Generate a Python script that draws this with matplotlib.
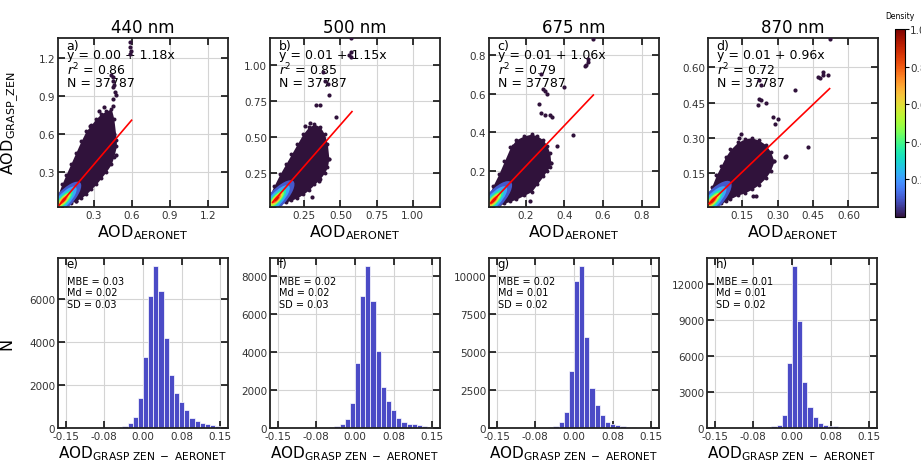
import numpy as np
import matplotlib
matplotlib.use('Agg')
import matplotlib.pyplot as plt
from matplotlib.patches import Ellipse
from matplotlib.colors import Normalize
from matplotlib.cm import ScalarMappable

# ---- scatter panels (top row) ----
wavelengths = ['440 nm', '500 nm', '675 nm', '870 nm']
panel_top = ['a)', 'b)', 'c)', 'd)']
fit_text = ['y = 0.00 + 1.18x', 'y = 0.01 + 1.15x', 'y = 0.01 + 1.06x', 'y = 0.01 + 0.96x']
intercept = [0.00, 0.01, 0.01, 0.01]
slope = [1.18, 1.15, 1.06, 0.96]
r2 = ['0.86', '0.85', '0.79', '0.72']
n_points = '37787'
line_x = [(0.03, 0.60), (0.03, 0.58), (0.02, 0.55), (0.01, 0.52)]
lims = [(0.02, 1.36), (0.012, 1.19), (0.01, 0.89), (0.005, 0.725)]
ticks = [[0.3, 0.6, 0.9, 1.2], [0.25, 0.5, 0.75, 1.0], [0.2, 0.4, 0.6, 0.8], [0.15, 0.3, 0.45, 0.6]]
tick_lbls = [['0.3', '0.6', '0.9', '1.2'], ['0.25', '0.50', '0.75', '1.00'],
             ['0.2', '0.4', '0.6', '0.8'], ['0.15', '0.30', '0.45', '0.60']]

# envelope of the dense cloud (x, lower y, upper y)
env_x = [
    [0.02, 0.05, 0.08, 0.12, 0.16, 0.2, 0.24, 0.28, 0.32, 0.36, 0.4, 0.44, 0.46, 0.48],
    [0.012, 0.04, 0.08, 0.12, 0.16, 0.2, 0.24, 0.28, 0.32, 0.36, 0.39, 0.41, 0.42],
    [0.01, 0.03, 0.06, 0.09, 0.12, 0.15, 0.19, 0.23, 0.26, 0.29, 0.31, 0.325, 0.33],
    [0.005, 0.02, 0.04, 0.06, 0.08, 0.1, 0.13, 0.16, 0.19, 0.22, 0.25, 0.27, 0.285],
]
env_lo = [
    [0.02, 0.025, 0.035, 0.05, 0.07, 0.09, 0.12, 0.16, 0.2, 0.25, 0.3, 0.36, 0.42, 0.5],
    [0.012, 0.015, 0.03, 0.045, 0.06, 0.075, 0.1, 0.13, 0.17, 0.21, 0.25, 0.29, 0.35],
    [0.01, 0.012, 0.018, 0.03, 0.04, 0.05, 0.07, 0.09, 0.13, 0.17, 0.2, 0.22, 0.24],
    [0.005, 0.006, 0.012, 0.02, 0.03, 0.04, 0.055, 0.065, 0.08, 0.1, 0.13, 0.16, 0.2],
]
env_hi = [
    [0.12, 0.2, 0.27, 0.36, 0.45, 0.54, 0.62, 0.67, 0.72, 0.76, 0.78, 0.8, 0.72, 0.55],
    [0.1, 0.16, 0.24, 0.31, 0.38, 0.45, 0.52, 0.57, 0.59, 0.57, 0.52, 0.45, 0.35],
    [0.07, 0.12, 0.18, 0.25, 0.32, 0.36, 0.38, 0.39, 0.38, 0.36, 0.33, 0.29, 0.24],
    [0.05, 0.09, 0.14, 0.18, 0.22, 0.25, 0.28, 0.295, 0.3, 0.29, 0.27, 0.24, 0.2],
]

# dense core: centre and half-lengths per density level
core_level = [0.1, 0.22, 0.36, 0.5, 0.64, 0.78, 0.92]
core_center = [(0.065, 0.075), (0.058, 0.068), (0.035, 0.045), (0.025, 0.032)]
core_len = [
    [0.19, 0.14, 0.1, 0.075, 0.058, 0.042, 0.025],
    [0.17, 0.125, 0.09, 0.068, 0.052, 0.038, 0.022],
    [0.13, 0.095, 0.07, 0.052, 0.04, 0.029, 0.017],
    [0.11, 0.08, 0.058, 0.044, 0.034, 0.025, 0.015],
]

# scattered points outside the cloud
out_x = [
    [0.59, 0.585, 0.595, 0.59, 0.44, 0.45, 0.455, 0.46, 0.45, 0.47, 0.48, 0.45, 0.38, 0.45, 0.27, 0.48, 0.46, 0.16, 0.34],
    [0.575, 0.56, 0.57, 0.575, 0.38, 0.391, 0.412, 0.424, 0.333, 0.36, 0.472, 0.256, 0.29, 0.35, 0.3],
    [0.55, 0.52, 0.525, 0.51, 0.505, 0.28, 0.29, 0.30, 0.31, 0.40, 0.27, 0.28, 0.30, 0.325, 0.335, 0.447, 0.36, 0.134, 0.22],
    [0.522, 0.494, 0.472, 0.48, 0.515, 0.493, 0.222, 0.229, 0.222, 0.23, 0.251, 0.215, 0.279, 0.301,
     0.372, 0.29, 0.429, 0.144, 0.137, 0.336, 0.33, 0.208, 0.195],
]
out_y = [
    [1.33, 1.29, 1.26, 1.23, 1.07, 1.05, 1.02, 0.99, 0.97, 0.93, 0.91, 0.88, 0.81, 0.82, 0.66, 0.43, 0.6, 0.065, 0.78],
    [1.19, 1.07, 1.06, 1.09, 0.953, 0.893, 0.87, 0.795, 0.72, 0.72, 0.636, 0.577, 0.6, 0.192, 0.08],
    [0.885, 0.78, 0.765, 0.75, 0.745, 0.70, 0.625, 0.615, 0.60, 0.635, 0.548, 0.50, 0.49, 0.49, 0.478, 0.383, 0.33, 0.33, 0.04],
    [0.72, 0.567, 0.56, 0.555, 0.567, 0.58, 0.546, 0.524, 0.467, 0.46, 0.446, 0.44, 0.389, 0.381,
     0.503, 0.36, 0.26, 0.317, 0.3, 0.224, 0.22, 0.053, 0.05],
]

# ---- difference histograms (bottom row) ----
panel_bot = ['e)', 'f)', 'g)', 'h)']
bin_left = np.round(np.arange(-0.15, 0.15, 0.01), 2)
counts = [
    [0, 0, 0, 0, 0, 0, 0, 0, 0, 0, 50, 100, 250, 520, 1380, 3280, 6160, 7530, 6375, 4190,
     2470, 1625, 1220, 845, 485, 330, 250, 170, 140, 110],
    [0, 0, 0, 0, 0, 0, 0, 0, 0, 0, 53, 106, 230, 460, 1290, 3434, 6920, 8513, 6655, 4053,
     2142, 1434, 956, 549, 336, 230, 195, 160, 106, 70],
    [0, 0, 0, 0, 0, 0, 0, 0, 0, 0, 66, 155, 375, 1040, 3750, 9650, 10640, 5960, 2600, 1480,
     840, 420, 240, 180, 110, 90, 66, 30, 0, 0],
    [0, 0, 0, 0, 0, 0, 0, 0, 0, 0, 80, 140, 280, 1116, 5440, 13450, 8930, 3820, 1730, 920,
     420, 250, 200, 150, 60, 0, 0, 0, 0, 0],
]
mbe = ['0.03', '0.02', '0.02', '0.01']
md = ['0.02', '0.02', '0.01', '0.01']
sd = ['0.03', '0.03', '0.02', '0.02']
hist_xticks = [-0.15, -0.075, 0.0, 0.075, 0.15]
hist_xlbls = ['-0.15', '-0.08', '0.00', '0.08', '0.15']
hist_yticks = [[0, 2000, 4000, 6000], [0, 2000, 4000, 6000, 8000],
               [0, 2500, 5000, 7500, 10000], [0, 3000, 6000, 9000, 12000]]

W, H = 921, 464
fig = plt.figure(figsize=(W / 100, H / 100), dpi=100)
cmap = plt.get_cmap('turbo')
purple = cmap(0.0)


def add_ax(left, top, w, h):
    return fig.add_axes([left / W, 1 - (top + h) / H, w / W, h / H])


def style(ax):
    for s in ax.spines.values():
        s.set_color('#222222')
        s.set_linewidth(1.3)
    ax.tick_params(direction='in', length=5, width=1.2, top=True, right=True,
                   labelsize=7.5, pad=2, labelcolor='#333333', color='#111111')
    ax.grid(True, color='#d4d4d4', lw=0.8)
    ax.set_axisbelow(True)


top_left = [58, 270, 489, 708]
for i in range(4):
    ax = add_ax(top_left[i], 39, 170, 169)
    style(ax)
    ax.fill_between(env_x[i], env_lo[i], env_hi[i], color=purple, lw=0, zorder=2)
    ax.scatter(env_x[i] + env_x[i], env_lo[i] + env_hi[i], s=8, color=purple, lw=0, zorder=2)
    cx, cy = core_center[i]
    for lev, L in zip(core_level, core_len[i]):
        ax.add_patch(Ellipse((cx, cy), 2 * L, 0.7 * L, angle=47, color=cmap(lev), lw=0, zorder=2.5))
    ax.scatter(out_x[i], out_y[i], s=9, color=purple, lw=0, zorder=4)
    xl = np.array(line_x[i])
    ax.plot(xl, intercept[i] + slope[i] * xl, color='red', lw=1.2, zorder=5)
    ax.set_xlim(lims[i])
    ax.set_ylim(lims[i])
    ax.set_xticks(ticks[i])
    ax.set_xticklabels(tick_lbls[i])
    ax.set_yticks(ticks[i])
    ax.set_yticklabels(tick_lbls[i])
    ax.set_title(wavelengths[i], fontsize=12, pad=4)
    ax.set_xlabel('AOD$_{\\mathrm{AERONET}}$', fontsize=11.5, labelpad=2)
    ax.text(0.05, 0.955, panel_top[i], transform=ax.transAxes, fontsize=9, va='center', zorder=3)
    ax.text(0.05, 0.905, fit_text[i], transform=ax.transAxes, fontsize=9, va='center', zorder=3)
    ax.text(0.05, 0.817, '$r^2$ = ' + r2[i], transform=ax.transAxes, fontsize=9, va='center', zorder=3)
    ax.text(0.05, 0.734, 'N = ' + n_points, transform=ax.transAxes, fontsize=9, va='center', zorder=3)
    if i == 0:
        ax.set_ylabel('AOD$_{\\mathrm{GRASP\\_ZEN}}$', fontsize=11.5)
        ax.yaxis.set_label_coords(-0.22, 0.5)

bot_left = [58, 270, 489, 707]
for i in range(4):
    ax = add_ax(bot_left[i], 259, 170, 170)
    style(ax)
    ax.bar(bin_left, counts[i], width=0.01, align='edge', color='#4b4bc6',
           edgecolor='white', lw=0.5, zorder=2)
    ax.set_xlim(-0.165, 0.165)
    ax.set_ylim(0, 1.05 * max(counts[i]))
    ax.set_xticks(hist_xticks)
    ax.set_xticklabels(hist_xlbls)
    ax.set_yticks(hist_yticks[i])
    ax.set_xlabel('AOD$_{\\mathrm{GRASP\\ ZEN\\ -\\ AERONET}}$', fontsize=11, labelpad=1.5)
    ax.text(0.05, 0.965, panel_bot[i], transform=ax.transAxes, fontsize=8.5, va='center')
    ax.text(0.055, 0.866, 'MBE = ' + mbe[i], transform=ax.transAxes, fontsize=7, va='center')
    ax.text(0.055, 0.798, 'Md = ' + md[i], transform=ax.transAxes, fontsize=7, va='center')
    ax.text(0.055, 0.729, 'SD = ' + sd[i], transform=ax.transAxes, fontsize=7, va='center')
    if i == 0:
        ax.set_ylabel('N', fontsize=11.5)
        ax.yaxis.set_label_coords(-0.255, 0.5)

cax = add_ax(895, 30, 9.5, 188)
sm = ScalarMappable(norm=Normalize(0, 1), cmap=cmap)
cb = fig.colorbar(sm, cax=cax, ticks=[0.2, 0.4, 0.6, 0.8, 1.0])
cb.outline.set_linewidth(0.8)
cax.tick_params(labelsize=7.5, length=3, pad=1, labelcolor='#333333')
cax.set_title('Density', fontsize=5.5, pad=8)

fig.savefig('out.png', dpi=100)
